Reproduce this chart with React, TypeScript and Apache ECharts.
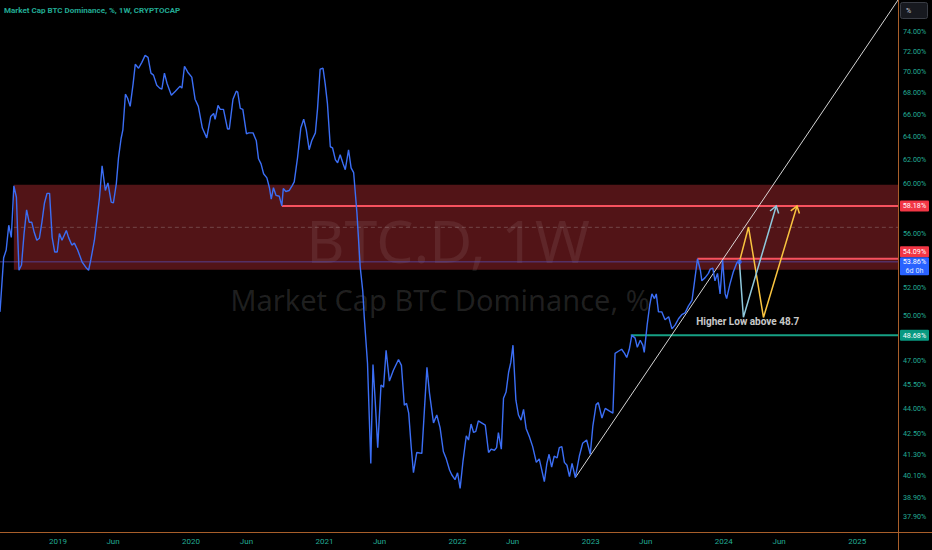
import React, { useEffect, useRef } from 'react';
import * as echarts from 'echarts';

// ---------- data ----------
const dominanceDates = [
  '2018-07-26','2018-08-05','2018-08-12','2018-08-19','2018-08-26','2018-09-02','2018-09-09','2018-09-16','2018-09-23','2018-09-30',
  '2018-10-07','2018-10-14','2018-10-21','2018-10-28','2018-11-04','2018-11-11','2018-11-18','2018-11-25','2018-12-02','2018-12-09',
  '2018-12-16','2018-12-23','2018-12-30','2019-01-05','2019-01-12','2019-01-24','2019-01-30','2019-02-08','2019-02-15','2019-02-24',
  '2019-03-08','2019-03-20','2019-03-26','2019-04-01','2019-04-11','2019-04-20','2019-04-25','2019-05-02','2019-05-11','2019-05-18',
  '2019-05-27','2019-06-02','2019-06-10','2019-06-16','2019-06-23','2019-06-28','2019-07-05','2019-07-11','2019-07-18','2019-07-26',
  '2019-08-01','2019-08-10','2019-08-19','2019-08-28','2019-09-05','2019-09-13','2019-09-20','2019-09-29','2019-10-07','2019-10-13',
  '2019-10-20','2019-10-27','2019-11-08','2019-11-19','2019-12-02','2019-12-07','2019-12-14','2019-12-23','2020-01-03','2020-01-12',
  '2020-01-21','2020-02-01','2020-02-13','2020-02-24','2020-03-03','2020-03-07','2020-03-15','2020-03-21','2020-03-30','2020-04-10',
  '2020-04-15','2020-04-25','2020-05-04','2020-05-08','2020-05-15','2020-05-22','2020-06-01','2020-06-07','2020-06-19','2020-06-28',
  '2020-07-04','2020-07-11','2020-07-18','2020-07-27','2020-08-03','2020-08-08','2020-08-14','2020-08-21','2020-08-30','2020-09-06',
  '2020-09-10','2020-09-17','2020-09-26','2020-10-04','2020-10-10','2020-10-19','2020-10-28','2020-11-05','2020-11-12','2020-11-20',
  '2020-11-27','2020-12-07','2020-12-13','2020-12-20','2020-12-28','2021-01-03','2021-01-09','2021-01-17','2021-01-23','2021-01-31',
  '2021-02-06','2021-02-13','2021-02-21','2021-02-27','2021-03-08','2021-03-15','2021-03-22','2021-03-31','2021-04-09','2021-04-16',
  '2021-04-20','2021-04-29','2021-05-08','2021-05-14','2021-05-20','2021-05-27','2021-06-05','2021-06-12','2021-06-19','2021-06-28',
  '2021-07-09','2021-07-23','2021-07-31','2021-08-08','2021-08-14','2021-08-20','2021-08-27','2021-09-02','2021-09-11','2021-09-25',
  '2021-10-02','2021-10-09','2021-10-16','2021-10-27','2021-11-05','2021-11-14','2021-11-23','2021-12-01','2021-12-10','2021-12-16',
  '2021-12-25','2022-01-01','2022-01-08','2022-01-16','2022-01-25','2022-01-31','2022-02-07','2022-02-14','2022-02-20','2022-02-27',
  '2022-03-18','2022-03-27','2022-04-03','2022-04-12','2022-04-18','2022-04-23','2022-05-01','2022-05-07','2022-05-14','2022-05-21',
  '2022-05-27','2022-06-02','2022-06-10','2022-06-17','2022-06-24','2022-07-01','2022-07-08','2022-07-17','2022-07-26','2022-08-05',
  '2022-08-13','2022-08-20','2022-08-27','2022-09-03','2022-09-09','2022-09-16','2022-09-23','2022-10-01','2022-10-07','2022-10-14',
  '2022-10-21','2022-10-28','2022-11-04','2022-11-11','2022-11-20','2022-12-01','2022-12-10','2022-12-21','2022-12-31','2023-01-07',
  '2023-01-16','2023-01-22','2023-02-01','2023-02-10','2023-02-22','2023-03-03','2023-03-09','2023-03-18','2023-03-27','2023-04-04',
  '2023-04-10','2023-04-17','2023-04-24','2023-05-03','2023-05-09','2023-05-17','2023-05-24','2023-05-28','2023-06-05','2023-06-12',
  '2023-06-18','2023-06-25','2023-06-30','2023-07-06','2023-07-15','2023-07-24','2023-08-03','2023-08-12','2023-08-21','2023-08-30',
  '2023-09-08','2023-09-17','2023-09-26','2023-10-06','2023-10-12','2023-10-21','2023-10-29','2023-11-02','2023-11-11','2023-11-20',
  '2023-11-25','2023-12-02','2023-12-08','2023-12-15','2023-12-22','2023-12-29','2024-01-05','2024-01-09','2024-01-18','2024-01-27',
  '2024-02-06','2024-02-13',
];
const dominanceValues = [
  50.27,54.16,54.75,56.65,55.71,59.82,58.88,53.24,53.63,56.0,
  57.86,56.89,56.89,56.08,55.49,55.64,56.89,58.42,59.2,59.2,
  55.71,54.6,54.6,56.0,55.49,56.24,55.71,55.12,55.27,54.75,
  53.86,53.4,53.24,54.0,55.49,57.62,58.88,61.49,59.43,60.06,
  58.49,58.42,59.98,62.17,63.83,64.61,67.88,67.5,66.75,68.83,
  70.74,70.35,70.93,71.61,71.42,69.88,69.69,68.73,68.45,68.35,
  69.88,68.92,67.78,68.16,68.64,68.45,70.55,69.97,69.5,67.41,
  66.75,64.78,63.91,65.83,66.09,65.57,66.84,66.47,66.47,64.7,
  64.7,67.41,68.16,68.07,66.56,66.47,64.26,64.35,64.35,63.65,
  62.09,61.66,60.82,60.48,59.66,58.73,59.66,59.04,58.96,58.18,
  59.59,59.35,59.43,59.82,60.14,62.17,64.78,65.57,64.61,62.87,
  63.65,64.35,66.56,70.26,70.35,68.83,67.03,63.13,63.04,62.0,
  61.75,62.43,61.66,61.16,62.87,61.32,60.91,57.62,53.47,51.73,
  49.93,46.81,40.78,46.75,44.5,41.68,45.44,45.31,47.67,45.69,
  46.38,47.07,46.69,44.19,44.31,43.71,41.68,40.26,41.4,41.35,
  43.88,46.56,44.94,43.13,43.6,42.85,41.46,41.04,40.41,40.15,
  39.88,40.26,39.4,40.93,42.37,42.12,43.06,42.56,42.63,43.25,
  43.0,41.4,41.59,41.53,41.68,42.56,41.59,44.62,45.0,46.25,
  46.88,48.01,44.5,43.6,43.29,43.94,42.8,42.31,41.74,40.84,
  41.04,40.41,39.77,40.78,41.3,40.57,41.2,41.09,41.68,41.74,
  40.84,40.68,40.05,40.78,39.99,41.2,41.93,42.12,41.3,42.93,
  44.23,44.35,43.42,44.0,43.83,43.71,47.47,47.61,47.74,47.47,
  47.2,47.74,48.68,48.48,47.87,48.34,48.01,47.54,49.37,50.73,
  51.53,51.2,51.53,50.27,50.27,49.72,49.93,49.1,49.37,49.79,
  50.07,50.2,50.67,51.07,52.23,54.09,53.24,52.47,52.7,53.01,
  53.32,53.4,52.47,53.01,51.53,54.0,51.53,51.2,52.23,53.09,
  53.8,53.86,
];

const yTickValues = [74, 72, 70, 68, 66, 64, 62, 60, 56, 52, 50, 47, 45.5, 44, 42.5, 41.3, 40.1, 38.9, 37.9];
const xTickDates = [
  '2019-01-01','2019-06-01','2020-01-01','2020-06-01','2021-01-01','2021-06-01',
  '2022-01-01','2022-06-01','2023-01-01','2023-06-01','2024-01-01','2024-06-01','2025-01-01',
];
const monthNames = ['Jan','Feb','Mar','Apr','May','Jun','Jul','Aug','Sep','Oct','Nov','Dec'];
const xRange = ['2018-07-26', '2025-04-23'];
const yRange = [37.1, 77.3];

const zoneStart = '2018-09-02';
const zoneTop = 59.9;
const zoneBottom = 53.27;

const levelValues = [58.18, 54.09, 48.68];
const levelStarts = ['2020-09-06', '2023-10-21', '2023-04-21'];

const trendDates = ['2022-11-20', '2025-04-23'];
const trendValues = [39.99, 77.3];

const yellowDates = ['2024-02-13', '2024-03-09', '2024-04-19', '2024-07-20'];
const yellowValues = [53.86, 56.51, 49.88, 58.18];
const cyanDates = ['2024-02-13', '2024-02-24', '2024-05-24'];
const cyanValues = [53.86, 49.9, 58.18];

const noteText = 'Higher Low above 48.7';
const noteDate = '2024-03-07';
const noteValue = 49.6;

const titleText = 'Market Cap BTC Dominance, %, 1W, CRYPTOCAP';
const watermarkMain = 'BTC.D, 1W';
const watermarkSub = 'Market Cap BTC Dominance, %';
const countdownText = '6d 0h';

// ---------- styles ----------
const GREEN = '#22ab94';
const RED = '#f23645';
const LEVEL_RED = '#f7525f';
const LEVEL_GREEN = '#16a085';
const BLUE = '#2962ff';
const LINE_BLUE = '#3b6ef5';
const ORANGE = '#a85e2a';
const YELLOW = '#f9c440';
const CYAN = '#8fc8dc';

const ts = (s: string) => {
  const [y, m, d] = s.split('-').map(Number);
  return new Date(y, m - 1, d).getTime();
};
const L = Math.log;

export default function App() {
  const ref = useRef<HTMLDivElement>(null);

  useEffect(() => {
    document.body.style.margin = '0';
    const chart = echarts.init(ref.current as HTMLDivElement, null, { renderer: 'svg' });
    const xMin = ts(xRange[0]);
    const xMax = ts(xRange[1]);
    const lastIdx = dominanceDates.length - 1;
    const lastValue = dominanceValues[lastIdx];
    const lastDate = dominanceDates[lastIdx];

    const lineSeries = (pts: any[], color: string, width: number, z: number, type: any = 'solid', opacity = 1) => ({
      type: 'line',
      data: pts,
      symbol: 'none',
      silent: true,
      z,
      lineStyle: { color, width, type, opacity },
      animation: false,
    });

    const arrows = [
      { dates: yellowDates, values: yellowValues, color: YELLOW },
      { dates: cyanDates, values: cyanValues, color: CYAN },
    ];

    const levelColors = [LEVEL_RED, LEVEL_RED, LEVEL_GREEN];
    const mid = Math.exp((L(zoneTop) + L(zoneBottom)) / 2);

    const series: any[] = [
      {
        type: 'line',
        data: [[ts(zoneStart), L(mid)]],
        symbol: 'none',
        silent: true,
        z: 1,
        lineStyle: { opacity: 0 },
        markArea: {
          silent: true,
          itemStyle: { color: '#521417' },
          data: [[
            { coord: [ts(zoneStart), L(zoneTop)] },
            { coord: [xMax, L(zoneBottom)] },
          ]],
        },
      },
      lineSeries([[ts(zoneStart), L(mid)], [xMax, L(mid)]], 'rgba(200,200,200,0.28)', 1, 3, [4, 3]),
      lineSeries([[xMin, L(lastValue)], [xMax, L(lastValue)]], '#5a4fb8', 1, 3, 'solid', 0.75),
      ...levelValues.map((v, i) => lineSeries([[ts(levelStarts[i]), L(v)], [xMax, L(v)]], levelColors[i], 2, 4)),
      lineSeries(trendDates.map((d, i) => [ts(d), L(trendValues[i])]), 'rgba(235,235,235,0.9)', 1, 4),
      lineSeries(dominanceDates.map((d, i) => [ts(d), L(dominanceValues[i])]), LINE_BLUE, 1.4, 5),
      ...arrows.map((a) => lineSeries(a.dates.map((d, i) => [ts(d), L(a.values[i])]), a.color, 1.5, 6)),
      {
        type: 'custom',
        silent: true,
        z: 6,
        data: arrows.map((a) => [ts(a.dates[a.dates.length - 1]), L(a.values[a.values.length - 1])]),
        renderItem: (params: any, api: any) => {
          const a = arrows[params.dataIndex];
          const n = a.dates.length;
          const tip = api.coord([ts(a.dates[n - 1]), L(a.values[n - 1])]);
          const from = api.coord([ts(a.dates[n - 2]), L(a.values[n - 2])]);
          let dx = tip[0] - from[0];
          let dy = tip[1] - from[1];
          const len = Math.hypot(dx, dy) || 1;
          dx /= len; dy /= len;
          const size = 8, ang = 0.6;
          const rot = (c: number, s: number) => [dx * c - dy * s, dx * s + dy * c];
          const b1 = rot(Math.cos(ang), Math.sin(ang));
          const b2 = rot(Math.cos(ang), -Math.sin(ang));
          return {
            type: 'polyline',
            shape: {
              points: [
                [tip[0] - b1[0] * size, tip[1] - b1[1] * size],
                tip,
                [tip[0] - b2[0] * size, tip[1] - b2[1] * size],
              ],
            },
            style: { stroke: a.color, lineWidth: 1.5, fill: 'none' },
          };
        },
      },
      {
        type: 'scatter',
        silent: true,
        z: 7,
        symbol: 'circle',
        symbolSize: 5,
        itemStyle: { color: BLUE },
        data: [[ts(lastDate), L(lastValue)]],
      },
      {
        type: 'scatter',
        silent: true,
        z: 7,
        symbol: 'circle',
        symbolSize: 1,
        itemStyle: { color: 'rgba(0,0,0,0)' },
        label: {
          show: true,
          position: 'inside',
          formatter: noteText,
          color: '#ffffff',
          fontFamily: 'Roboto',
          fontWeight: 'bold',
          fontSize: 10,
        },
        data: [[ts(noteDate), L(noteValue)]],
      },
    ];

    chart.setOption({
      animation: false,
      backgroundColor: '#000000',
      grid: { left: 0, right: 34, top: 0, bottom: 18, containLabel: false, outerBoundsMode: 'none' },
      xAxis: {
        type: 'value',
        min: xMin,
        max: xMax,
        axisLine: { show: false },
        axisTick: { show: false },
        splitLine: { show: false },
        axisLabel: {
          customValues: xTickDates.map(ts),
          formatter: (v: number) => {
            const d = new Date(v);
            return d.getMonth() === 0 ? String(d.getFullYear()) : monthNames[d.getMonth()];
          },
          color: GREEN,
          fontSize: 8,
          fontFamily: 'Roboto',
          margin: 5,
        },
      },
      yAxis: {
        type: 'value',
        position: 'right',
        min: L(yRange[0]),
        max: L(yRange[1]),
        axisLine: { show: false },
        axisTick: { show: false },
        splitLine: { show: false },
        axisLabel: {
          customValues: yTickValues.map(L),
          formatter: (v: number) => Math.exp(v).toFixed(2) + '%',
          color: GREEN,
          fontSize: 7.2,
          fontFamily: 'Roboto',
          margin: 5,
        },
      },
      series,
    });

    const yPx = (v: number) => chart.convertToPixel({ yAxisIndex: 0 }, L(v)) as number;
    const boxX = 900;
    const boxW = 29;
    const box = (yc: number, h: number, fill: string, texts: { t: string; dy: number; color?: string }[]) => [
      { type: 'rect', z: 20, silent: true, shape: { x: boxX, y: yc - h / 2, width: boxW, height: h, r: 1 }, style: { fill } },
      ...texts.map((tx) => ({
        type: 'text', z: 21, silent: true,
        style: {
          text: tx.t, x: boxX + boxW / 2, y: yc + tx.dy, align: 'center', verticalAlign: 'middle',
          fill: tx.color || '#ffffff', font: '7.2px Roboto',
        },
      })),
    ];

    const y5818 = yPx(levelValues[0]);
    const y5409 = yPx(levelValues[1]) - 7;
    const y4868 = yPx(levelValues[2]);
    const blueTop = y5409 + 5.5;
    const blueH = 18;

    chart.setOption({
      graphic: [
        {
          type: 'text', z: 2, silent: true,
          style: {
            text: watermarkMain, x: 448, y: 240, align: 'center', verticalAlign: 'middle',
            font: '59px "Noto Sans"', fill: 'rgba(255,255,255,0.08)',
          },
        },
        {
          type: 'text', z: 2, silent: true,
          style: {
            text: watermarkSub, x: 440, y: 299, align: 'center', verticalAlign: 'middle',
            font: '29px "Noto Sans"', fill: 'rgba(255,255,255,0.13)',
          },
        },
        {
          type: 'text', z: 20, silent: true,
          style: { text: titleText, x: 4, y: 10, align: 'left', verticalAlign: 'middle', font: 'bold 8px Roboto', fill: GREEN },
        },
        { type: 'line', z: 19, silent: true, shape: { x1: 898.5, y1: 0, x2: 898.5, y2: 550 }, style: { stroke: ORANGE, lineWidth: 1 } },
        { type: 'line', z: 19, silent: true, shape: { x1: 0, y1: 532.5, x2: 932, y2: 532.5 }, style: { stroke: ORANGE, lineWidth: 1 } },
        { type: 'rect', z: 20, silent: true, shape: { x: 900.5, y: 2.5, width: 27, height: 16, r: 2 }, style: { fill: '#17191f', stroke: '#3a3d45', lineWidth: 1 } },
        { type: 'text', z: 21, silent: true, style: { text: '%', x: 906, y: 10.5, align: 'left', verticalAlign: 'middle', font: '7px Roboto', fill: '#c8cad0' } },
        ...box(y5818, 11, RED, [{ t: levelValues[0].toFixed(2) + '%', dy: 0 }]),
        ...box(y5409, 11, RED, [{ t: levelValues[1].toFixed(2) + '%', dy: 0 }]),
        ...box(blueTop + blueH / 2, blueH, BLUE, [
          { t: lastValue.toFixed(2) + '%', dy: -4.5 },
          { t: countdownText, dy: 4.5, color: '#dfe6ff' },
        ]),
        ...box(y4868, 11, '#089981', [{ t: levelValues[2].toFixed(2) + '%', dy: 0 }]),
      ],
    });

    return () => chart.dispose();
  }, []);

  return <div ref={ref} style={{ width: 932, height: 550, background: '#000' }} />;
}
